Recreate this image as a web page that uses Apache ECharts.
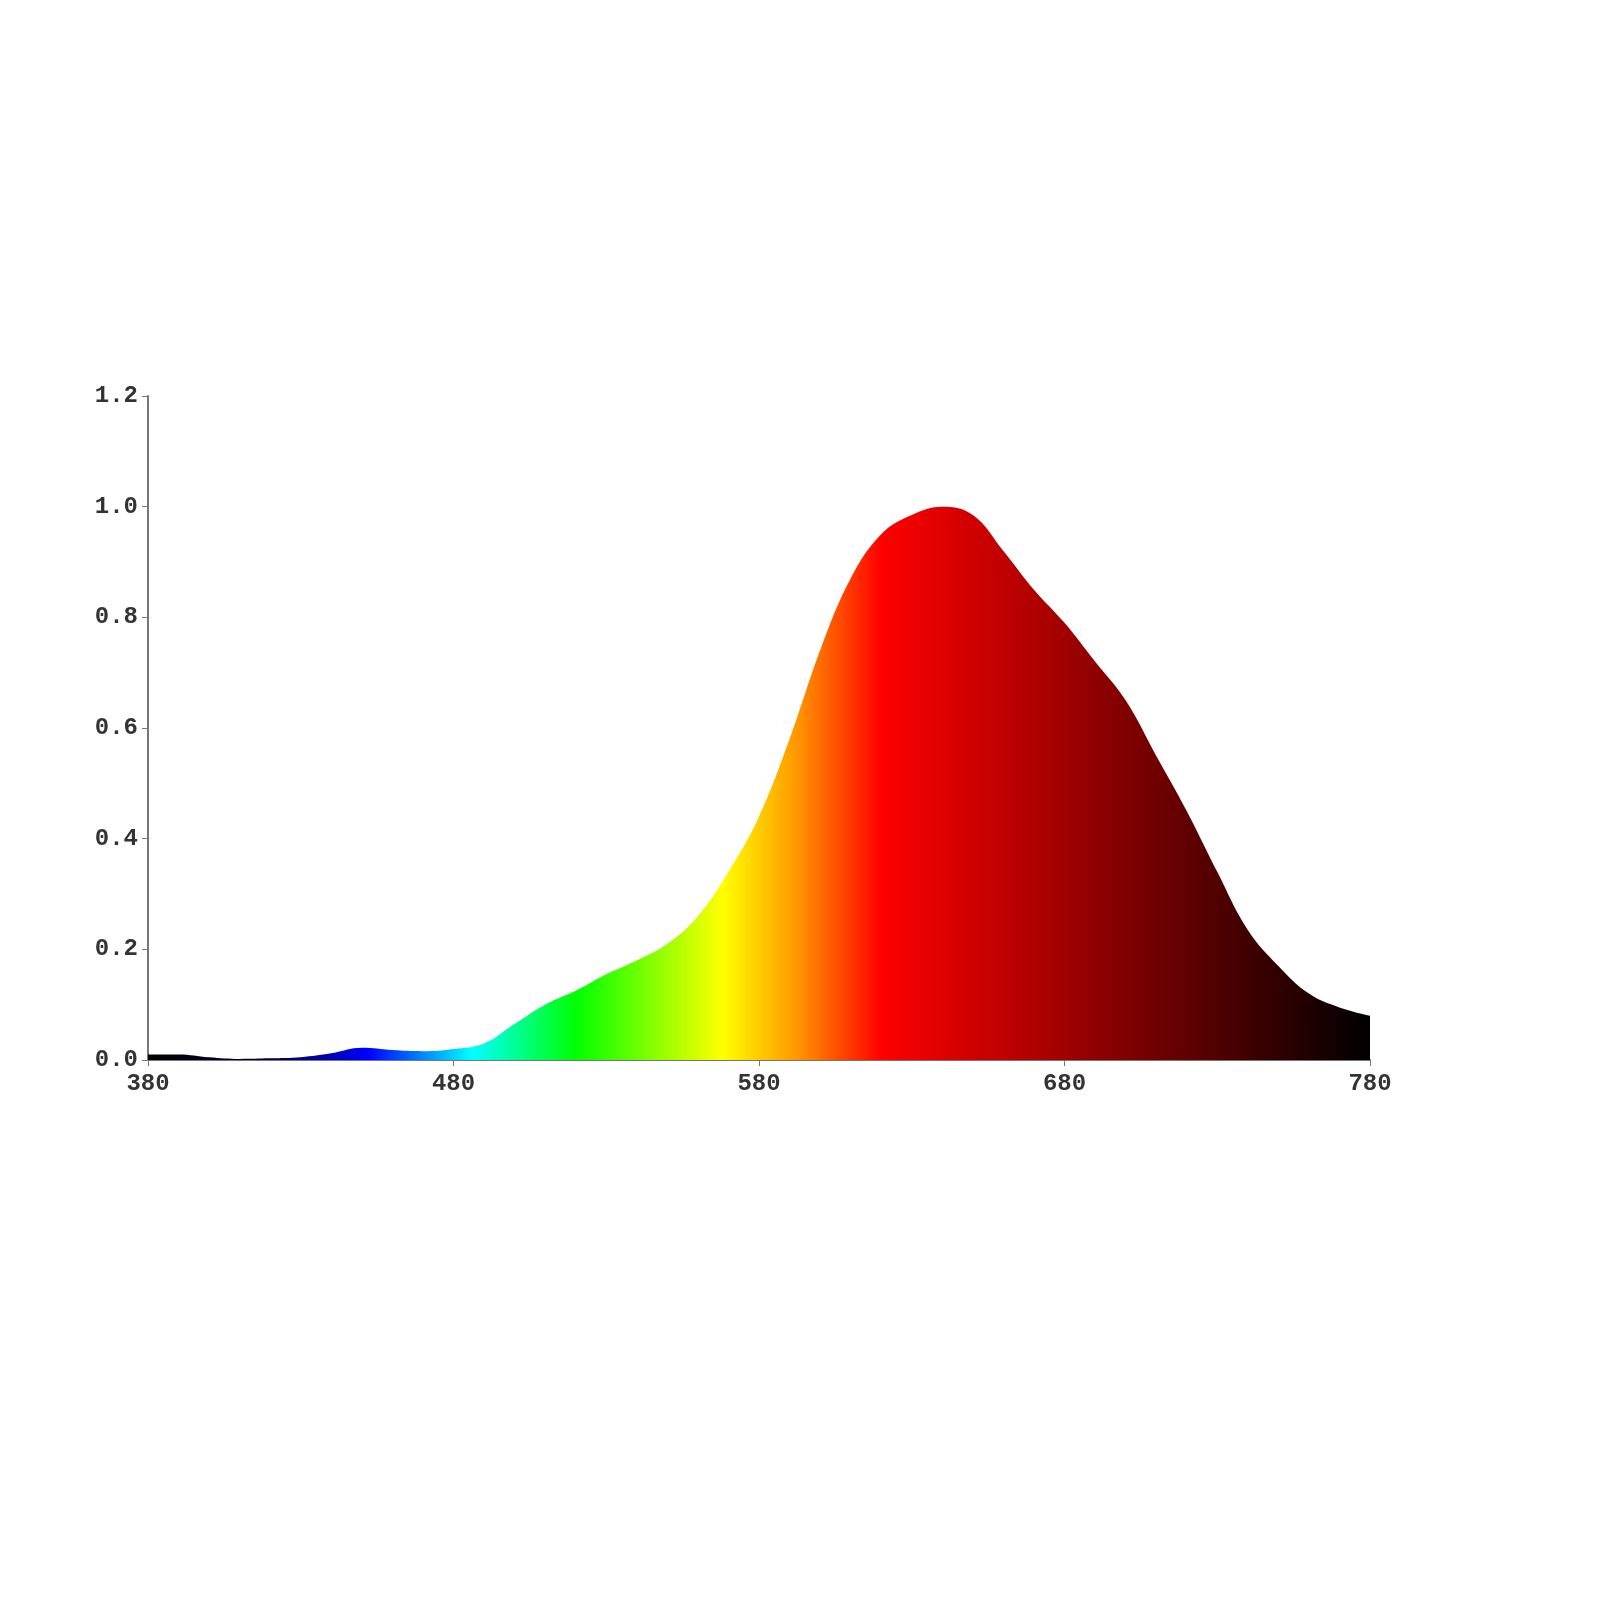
<!DOCTYPE html>
<html>
<head>
<meta charset="utf-8">
<script src="https://cdn.jsdelivr.net/npm/echarts@6/dist/echarts.min.js"></script>
<style>body{margin:0;background:#fff}#c{width:1600px;height:1600px}</style>
</head>
<body>
<div id="c"></div>
<script>
var wavelengths = [380,390,400,410,420,430,440,450,460,470,480,490,500,510,520,530,540,550,560,570,580,590,600,610,620,630,640,650,660,670,680,690,700,710,720,730,740,750,760,770,780];
var intensity = [0.01,0.01,0.005,0.002,0.003,0.005,0.012,0.022,0.018,0.016,0.02,0.03,0.065,0.1,0.125,0.155,0.18,0.21,0.26,0.34,0.44,0.58,0.74,0.87,0.95,0.985,1.0,0.985,0.92,0.85,0.79,0.72,0.65,0.55,0.45,0.34,0.235,0.17,0.12,0.095,0.08];
var yTicks = [0, 0.2, 0.4, 0.6, 0.8, 1.0, 1.2];

var chart = echarts.init(document.getElementById('c'));
var axisText = {fontFamily: 'Liberation Mono', fontSize: 24, fontWeight: 'bold', color: '#333'};
chart.setOption({
	animation: false,
	grid: {left: 148, right: 230, top: 396, bottom: 540},
	xAxis: {
		type: 'value', min: 380, max: 780, interval: 100,
		axisLine: {lineStyle: {color: '#777', width: 2}},
		axisTick: {length: 6, lineStyle: {color: '#777'}},
		axisLabel: Object.assign({margin: 12}, axisText),
		splitLine: {show: false}
	},
	yAxis: {
		type: 'value', min: 0, max: 1.2, interval: 0.2,
		axisLine: {show: true, lineStyle: {color: '#777', width: 2}},
		axisTick: {show: true, length: 6, lineStyle: {color: '#777'}},
		axisLabel: Object.assign({margin: 10, formatter: function (v) { return v.toFixed(1); }}, axisText),
		splitLine: {show: false}
	},
	series: [{
		type: 'line',
		data: wavelengths.map(function (w, i) { return [w, intensity[i]]; }),
		smooth: 0.4,
		symbol: 'none',
		lineStyle: {width: 0},
		areaStyle: {
			opacity: 1,
			color: new echarts.graphic.LinearGradient(0, 0, 1, 0, [
				{offset: 0, color: '#000000'},
				{offset: 0.1, color: '#000040'},
				{offset: 0.18, color: '#0000ff'},
				{offset: 0.265, color: '#00ffff'},
				{offset: 0.35, color: '#00ff00'},
				{offset: 0.47, color: '#ffff00'},
				{offset: 0.53, color: '#ff9900'},
				{offset: 0.6, color: '#ff0000'},
				{offset: 0.7, color: '#c00000'},
				{offset: 0.8, color: '#800000'},
				{offset: 1, color: '#000000'}
			])
		}
	}]
});
</script>
</body>
</html>
